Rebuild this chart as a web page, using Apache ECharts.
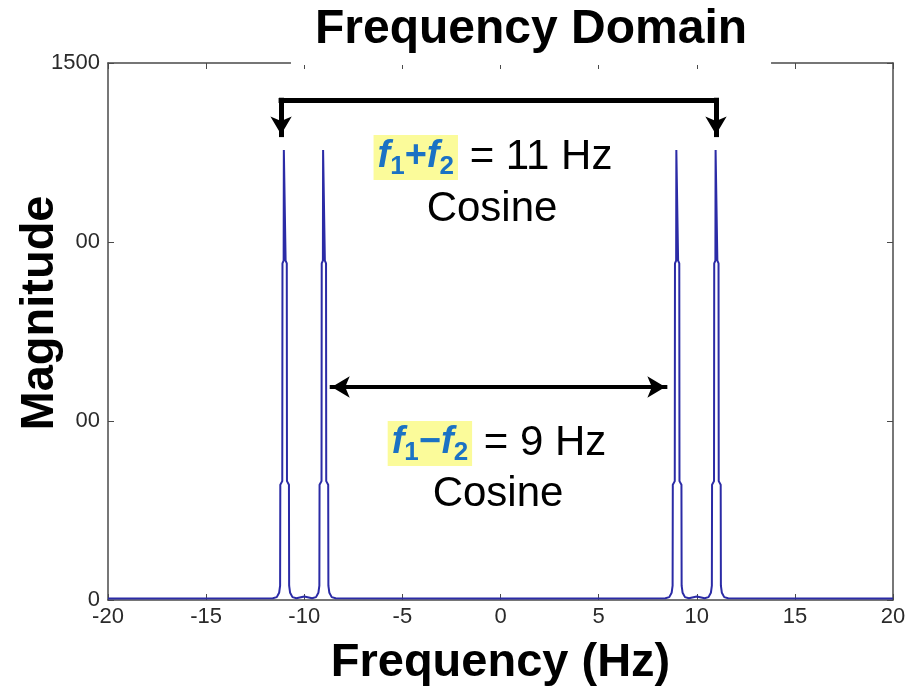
<!DOCTYPE html>
<html>
<head>
<meta charset="utf-8">
<title>Frequency Domain</title>
<script src="https://cdn.jsdelivr.net/npm/echarts@6/dist/echarts.min.js"></script>
<style>
  html, body { margin: 0; padding: 0; background: #fff; }
  #chart { width: 921px; height: 689px; }
</style>
</head>
<body>
<div id="chart"></div>
<script>
// Spectrum of the product of two cosines: lines at ±(f1+f2) and ±(f1−f2)
const peakCentres = [-11, -9, 9, 11];               // Hz
// shape of each spectral line around its centre (Hz offset, magnitude)
const peakOffsets    = [-0.6, -0.40, -0.28, -0.23, -0.22, -0.12, -0.11, -0.05, -0.04, 0.04, 0.05, 0.11, 0.12, 0.22, 0.23, 0.28, 0.40, 0.6];
const peakMagnitudes = [5,    8,     20,    40,    322,   332,   940,   948,   1257,  1257, 948,  940,  332,  322,  40,   20,   8,    5];
// floor of the spectrum away from the lines
const floorFreqs      = [-20, -10, 0, 10, 20];
const floorMagnitudes = [4,   10,  4, 10, 4];

const xMin = -20, xMax = 20, xStep = 5;
const yMin = 0, yMax = 1500, yStep = 500;

const spectrum = [];
floorFreqs.forEach((f, i) => spectrum.push([f, floorMagnitudes[i]]));
peakCentres.forEach(c => {
  peakOffsets.forEach((o, i) => spectrum.push([+(c + o).toFixed(3), peakMagnitudes[i]]));
});
spectrum.sort((a, b) => a[0] - b[0]);

const fontFamily = '"Liberation Sans", Arial, sans-serif';
const frameColor = '#4a4a4a';
const blue = '#1b72c4';
const yellow = '#fbfb9a';

// text measuring for laying out the highlighted formulas
const measureCtx = document.createElement('canvas').getContext('2d');
function textWidth(font, text) {
  measureCtx.font = font;
  return measureCtx.measureText(text).width;
}

// "f1 op f2 = rhs" with a yellow highlight behind the blue symbols
function formulaGraphic(cx, cy, op, rhs) {
  const fFont = 'italic bold 38px ' + fontFamily;
  const opFont = 'bold 38px ' + fontFamily;
  const subFont = 'bold 26px ' + fontFamily;
  const eqFont = '42px ' + fontFamily;
  const pad = 4;
  const parts = [
    { t: 'f', font: fFont, dy: 0 },
    { t: '1', font: subFont, dy: 10 },
    { t: op, font: opFont, dy: 0 },
    { t: 'f', font: fFont, dy: 0 },
    { t: '2', font: subFont, dy: 10 }
  ];
  parts.forEach(p => { p.w = textWidth(p.font, p.t); });
  const hlWidth = pad * 2 + parts.reduce((s, p) => s + p.w, 0);
  const eqText = ' = ' + rhs;
  const eqWidth = textWidth(eqFont, eqText);
  const x0 = cx - (hlWidth + eqWidth) / 2;
  const children = [{
    type: 'rect', shape: { x: x0, y: cy - 22, width: hlWidth, height: 45 },
    style: { fill: yellow }
  }];
  let x = x0 + pad;
  parts.forEach(p => {
    children.push({
      type: 'text', x: x, y: cy + p.dy,
      style: { text: p.t, font: p.font, fill: blue, align: 'left', verticalAlign: 'middle' }
    });
    x += p.w;
  });
  children.push({
    type: 'text', x: x + pad, y: cy,
    style: { text: eqText, font: eqFont, fill: '#000', align: 'left', verticalAlign: 'middle' }
  });
  return { type: 'group', z: 50, children: children };
}

const chart = echarts.init(document.getElementById('chart'), null, { renderer: 'canvas' });

const axisCommon = {
  type: 'value',
  axisLine: { show: true, onZero: false, lineStyle: { color: frameColor, width: 1.5 } },
  axisTick: { show: true, inside: true, length: 6, lineStyle: { color: frameColor, width: 1 } },
  splitLine: { show: false }
};
const tickLabel = {
  color: '#2a2a2a', fontSize: 22, fontFamily: fontFamily, margin: 8,
  formatter: v => String(v)
};

const option = {
  animation: false,
  backgroundColor: '#fff',
  grid: { left: 108, right: 28, top: 63, bottom: 89, containLabel: false, outerBoundsMode: 'none' },
  xAxis: [
    Object.assign({}, axisCommon, {
      min: xMin, max: xMax, interval: xStep, position: 'bottom',
      axisLabel: Object.assign({}, tickLabel, { margin: 6 }),
      name: 'Frequency (Hz)', nameLocation: 'middle', nameGap: 40,
      nameTextStyle: { fontFamily: fontFamily, fontWeight: 'bold', fontSize: 47, color: '#000' }
    }),
    Object.assign({}, axisCommon, {
      min: xMin, max: xMax, interval: xStep, position: 'top',
      axisLabel: { show: false }
    })
  ],
  yAxis: [
    Object.assign({}, axisCommon, {
      min: yMin, max: yMax, interval: yStep, position: 'left',
      axisLabel: tickLabel
    }),
    Object.assign({}, axisCommon, {
      min: yMin, max: yMax, interval: yStep, position: 'right',
      axisLabel: { show: false }
    })
  ],
  series: [{
    type: 'line',
    data: spectrum,
    showSymbol: false,
    symbol: 'none',
    silent: true,
    lineStyle: { color: '#2b2ba6', width: 2 },
    z: 3,
    markLine: {
      silent: true,
      animation: false,
      label: { show: false },
      emphasis: { disabled: true },
      lineStyle: { color: '#000', width: 5, type: 'solid', cap: 'square' },
      symbolSize: [16, 18],
      data: [
        [{ coord: [-11.18, 1396], symbol: 'none' }, { coord: [-11.18, 1300], symbol: 'arrow' }],
        [{ coord: [-11.18, 1396], symbol: 'none' }, { coord: [10.98, 1396], symbol: 'none' }],
        [{ coord: [10.98, 1396], symbol: 'none' }, { coord: [10.98, 1300], symbol: 'arrow' }],
        [{ coord: [-8.6, 595], symbol: 'arrow', lineStyle: { width: 4 } }, { coord: [8.4, 595], symbol: 'arrow' }]
      ]
    }
  }],
  graphic: [
    {
      type: 'text', z: 100, x: 531, y: 30,
      style: {
        text: 'Frequency Domain', align: 'center', verticalAlign: 'middle',
        font: 'bold 48px ' + fontFamily, fill: '#000',
        backgroundColor: '#fff', padding: [8, 24, 14, 24]
      }
    },
    {
      type: 'text', z: 100, x: 40, y: 313, rotation: Math.PI / 2,
      style: {
        text: 'Magnitude', align: 'center', verticalAlign: 'middle',
        font: 'bold 47px ' + fontFamily, fill: '#000',
        backgroundColor: '#fff', padding: [4, 8, 20, 8]
      }
    },
    formulaGraphic(493, 157, '+', '11 Hz'),
    {
      type: 'text', z: 50, x: 492, y: 209,
      style: { text: 'Cosine', align: 'center', verticalAlign: 'middle', font: '42px ' + fontFamily, fill: '#000' }
    },
    formulaGraphic(497, 443, '\u2212', '9 Hz'),
    {
      type: 'text', z: 50, x: 498, y: 494,
      style: { text: 'Cosine', align: 'center', verticalAlign: 'middle', font: '42px ' + fontFamily, fill: '#000' }
    }
  ]
};

chart.setOption(option);
</script>
</body>
</html>
